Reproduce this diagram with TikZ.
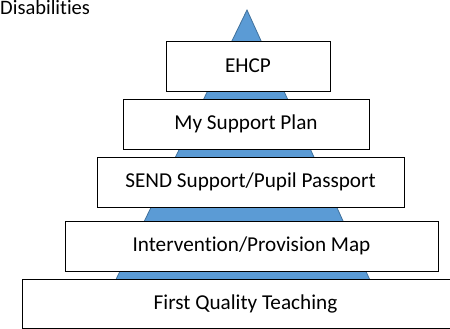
\documentclass[tikz,border=0pt]{standalone}
\usepackage{fontspec}
\setmainfont{Carlito}[Ligatures=NoCommon]
\definecolor{pyramidblue}{HTML}{5B9BD5}
\definecolor{pyramidedge}{HTML}{41719C}

\begin{document}
\begin{tikzpicture}[x=1pt, y=-1pt,
  tier/.style={draw, fill=white, line width=0.8pt, inner sep=0pt, minimum height=50pt, font=\fontsize{21.2}{25}\selectfont}]
\useasboundingbox (0,0) rectangle (450,329);

\node[anchor=base west, inner sep=0pt, font=\fontsize{20.5}{25}\selectfont] at (0,15) (title) {Disabilities};

% pyramid behind the tiers
\coordinate (apex) at (247,10);
\coordinate (baseright) at (379,300);
\coordinate (baseleft) at (106,300);
\draw[fill=pyramidblue, draw=pyramidedge, line width=0.8pt] (apex) -- (baseright) -- (baseleft) -- cycle;

\node[tier, minimum width=164pt] at (248,66) (ehcp) {EHCP};
\node[tier, minimum width=246pt] at (246,124) (plan) {My Support Plan};
\node[tier, minimum width=307pt] at (250.5,182) (send) {SEND Support/Pupil Passport};
\node[tier, minimum width=373pt] at (251.5,246) (map) {Intervention/Provision Map};
\node[tier, minimum width=447pt, minimum height=49pt] at (245.5,303.5) (teaching) {First Quality Teaching};
\end{tikzpicture}
\end{document}
